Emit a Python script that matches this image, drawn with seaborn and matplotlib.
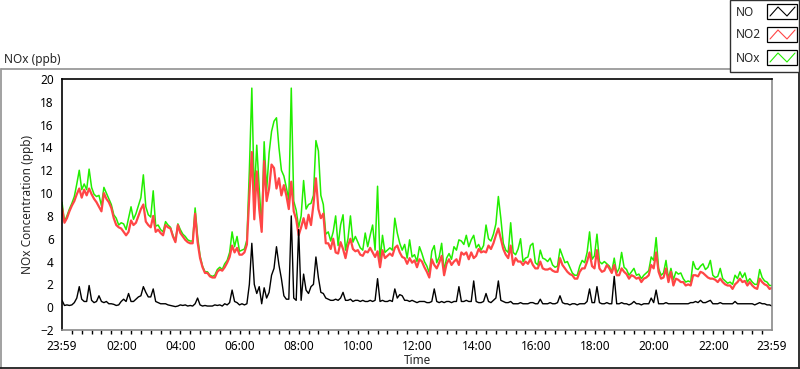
"""
plot.py
NOx / NO2 / NO concentration over one day, drawn in the style of a LabVIEW chart
"""

import numpy as np
import pandas as pd
import matplotlib
matplotlib.use("Agg")
import matplotlib.pyplot as plt
from matplotlib.lines import Line2D
from matplotlib.patches import Rectangle
from matplotlib.ticker import MultipleLocator
import seaborn as sns

# 5-minute samples, one row per hour, starting at 23:59
no2_rows = [
    [8.7, 7.4, 7.8, 8.4, 8.9, 9.3, 9.9, 10.4, 9.6, 10.3, 9.8, 10.4],
    [9.9, 9.5, 9.2, 8.8, 8.4, 10.0, 9.5, 9.2, 8.7, 7.8, 7.2, 7.0],
    [6.9, 6.6, 6.3, 6.6, 7.6, 7.2, 7.4, 8.0, 8.6, 9.0, 7.5, 7.2],
    [7.0, 8.0, 6.6, 6.8, 6.5, 6.3, 7.2, 7.0, 6.9, 6.2, 5.7, 7.2],
    [6.5, 6.2, 5.9, 5.7, 5.6, 5.6, 8.2, 5.7, 4.3, 3.5, 3.0, 3.0],
    [2.7, 2.6, 2.6, 3.1, 3.3, 3.2, 3.5, 3.9, 4.4, 5.4, 4.8, 5.2],
    [4.6, 4.6, 4.8, 5.5, 9.8, 13.6, 7.7, 11.9, 8.6, 6.6, 12.8, 9.3],
    [10.4, 12.5, 12.2, 10.4, 11.3, 9.8, 10.7, 9.8, 8.6, 11.0, 8.4, 7.7],
    [6.3, 7.0, 7.8, 6.9, 8.1, 7.2, 9.0, 11.3, 8.6, 7.8, 8.2, 5.6],
    [5.6, 5.1, 6.0, 4.8, 4.7, 5.7, 5.1, 4.3, 5.4, 6.0, 5.1, 4.9],
    [5.0, 4.6, 4.5, 4.9, 4.8, 5.2, 4.8, 4.4, 4.9, 3.5, 5.0, 4.3],
    [4.5, 4.7, 4.5, 5.2, 5.4, 4.8, 4.4, 4.3, 3.8, 4.3, 3.9, 4.1],
    [3.5, 4.2, 4.0, 3.5, 3.1, 2.6, 4.2, 3.7, 3.4, 3.9, 4.5, 2.8],
    [3.8, 4.2, 3.7, 4.0, 4.2, 3.7, 4.8, 4.6, 4.8, 4.2, 4.8, 4.3],
    [4.5, 5.1, 4.8, 4.9, 4.8, 5.4, 5.1, 5.6, 6.3, 6.9, 6.0, 5.1],
    [4.6, 4.3, 5.4, 3.7, 4.3, 4.0, 4.0, 3.7, 4.0, 3.8, 4.2, 3.7],
    [3.4, 3.4, 4.0, 3.4, 3.3, 3.3, 3.4, 3.2, 3.1, 3.1, 4.3, 3.7],
    [3.4, 3.1, 2.9, 2.8, 2.5, 2.5, 3.1, 3.4, 3.4, 4.0, 4.8, 3.6],
    [3.4, 5.0, 3.4, 3.1, 3.2, 3.7, 3.4, 3.0, 3.7, 2.8, 2.8, 3.4],
    [3.1, 2.9, 2.5, 2.8, 2.7, 2.5, 2.6, 2.2, 2.5, 2.6, 2.8, 3.7],
    [3.4, 4.8, 3.1, 2.5, 2.6, 3.4, 2.2, 3.1, 1.9, 2.5, 2.4, 2.2],
    [2.2, 1.9, 2.0, 1.9, 2.8, 2.8, 2.7, 3.1, 3.0, 2.8, 2.6, 2.5],
    [2.5, 2.4, 2.2, 2.5, 2.2, 2.0, 1.9, 1.9, 1.6, 2.0, 2.2, 2.5],
    [2.2, 2.3, 1.9, 2.2, 1.9, 1.7, 1.6, 2.5, 2.2, 2.0, 1.9, 1.6],
    [1.7],
]

no_rows = [
    [0.6, 0.15, 0.2, 0.15, 0.2, 0.4, 0.8, 1.8, 0.7, 0.5, 0.5, 1.9],
    [0.6, 0.4, 0.5, 1.0, 0.5, 0.4, 0.5, 0.3, 0.3, 0.25, 0.15, 0.2],
    [0.5, 0.7, 0.5, 1.2, 0.5, 0.5, 0.7, 0.9, 1.0, 1.8, 1.3, 0.9],
    [0.9, 1.6, 0.5, 0.4, 0.3, 0.3, 0.3, 0.2, 0.15, 0.1, 0.05, 0.1],
    [0.2, 0.15, 0.2, 0.1, 0.15, 0.1, 0.3, 0.8, 0.2, 0.1, 0.15, 0.1],
    [0.1, 0.1, 0.2, 0.15, 0.2, 0.1, 0.3, 0.2, 0.4, 1.5, 0.5, 0.4],
    [0.2, 0.3, 0.2, 0.3, 2.0, 5.6, 2.0, 1.2, 1.8, 0.3, 1.7, 0.8],
    [1.3, 2.8, 3.4, 5.3, 3.7, 2.5, 1.0, 0.7, 0.7, 8.0, 0.8, 0.6],
    [6.8, 0.6, 2.9, 1.5, 1.2, 1.8, 2.0, 4.4, 2.6, 1.3, 1.2, 0.8],
    [0.7, 0.6, 0.6, 0.7, 0.6, 0.8, 1.3, 0.6, 0.6, 0.7, 0.5, 0.6],
    [0.6, 0.5, 0.6, 0.5, 0.5, 0.6, 0.5, 0.6, 2.5, 0.5, 0.6, 0.5],
    [0.5, 0.6, 0.5, 1.6, 0.8, 1.1, 1.0, 0.6, 0.6, 0.5, 0.6, 0.5],
    [0.4, 0.5, 0.5, 0.5, 0.4, 0.4, 0.5, 1.6, 0.5, 0.4, 0.5, 0.4],
    [0.5, 0.5, 0.4, 0.5, 0.5, 1.8, 0.5, 0.5, 0.6, 0.5, 0.5, 2.3],
    [0.5, 0.4, 0.4, 0.5, 1.2, 0.5, 0.4, 0.6, 0.8, 2.3, 0.6, 0.5],
    [0.4, 0.4, 0.5, 0.3, 0.3, 0.3, 0.4, 0.3, 0.3, 0.3, 0.4, 0.4],
    [0.3, 0.3, 0.7, 0.3, 0.3, 0.3, 0.4, 0.3, 0.3, 0.4, 1.0, 0.4],
    [0.3, 0.3, 0.2, 0.3, 0.3, 0.2, 0.3, 0.3, 0.3, 0.5, 1.6, 0.4],
    [0.4, 1.8, 0.4, 0.3, 0.3, 0.4, 0.3, 0.3, 2.7, 0.3, 0.3, 0.4],
    [0.3, 0.3, 0.2, 0.3, 0.5, 0.3, 0.3, 0.2, 0.3, 0.3, 0.3, 0.8],
    [0.4, 1.5, 0.3, 0.3, 0.3, 0.4, 0.3, 0.3, 0.3, 0.3, 0.3, 0.3],
    [0.3, 0.3, 0.3, 0.4, 0.4, 0.5, 0.4, 0.6, 0.4, 0.4, 0.5, 0.6],
    [0.3, 0.3, 0.3, 0.4, 0.3, 0.3, 0.3, 0.3, 0.3, 0.5, 0.3, 0.3],
    [0.3, 0.3, 0.3, 0.3, 0.3, 0.2, 0.3, 0.4, 0.3, 0.3, 0.2, 0.2],
    [0.1],
]

nox_rows = [
    [9.2, 7.5, 8.0, 8.6, 9.1, 9.7, 10.8, 12.0, 10.3, 10.8, 10.3, 12.1],
    [10.5, 9.9, 9.7, 9.8, 8.9, 10.5, 10.0, 9.5, 9.0, 8.1, 7.8, 7.2],
    [7.4, 7.3, 6.8, 7.8, 8.8, 7.7, 8.2, 8.9, 9.6, 11.6, 8.8, 8.1],
    [7.9, 10.2, 7.1, 7.2, 6.8, 6.6, 7.5, 7.2, 7.0, 6.3, 5.8, 7.3],
    [6.8, 6.4, 6.2, 5.9, 5.8, 5.8, 8.7, 6.2, 4.5, 3.6, 3.1, 3.1],
    [2.8, 2.7, 2.8, 3.3, 3.5, 3.3, 3.8, 4.1, 4.8, 6.6, 5.3, 6.2],
    [4.9, 5.0, 5.1, 5.9, 12.0, 19.2, 9.8, 14.2, 10.4, 7.0, 14.5, 10.2],
    [13.5, 15.4, 16.3, 16.6, 14.0, 12.0, 11.5, 10.5, 9.4, 19.2, 9.3, 8.5],
    [7.0, 8.0, 11.1, 8.6, 9.0, 9.1, 9.8, 14.6, 13.7, 9.8, 9.0, 6.4],
    [6.6, 5.8, 6.6, 8.0, 5.4, 7.2, 8.1, 5.0, 6.0, 8.0, 5.7, 6.2],
    [5.7, 5.2, 5.0, 6.5, 5.3, 6.3, 7.2, 5.0, 10.6, 4.0, 6.3, 4.8],
    [5.0, 5.2, 5.0, 7.8, 6.5, 5.6, 5.0, 5.5, 4.3, 5.9, 4.4, 4.6],
    [4.0, 5.3, 4.7, 4.0, 3.6, 3.0, 4.9, 5.4, 3.9, 4.4, 5.6, 3.2],
    [4.3, 4.7, 4.2, 5.3, 5.0, 5.9, 5.8, 5.5, 6.3, 5.3, 5.9, 6.3],
    [5.2, 5.5, 5.0, 5.4, 7.2, 6.0, 5.8, 6.4, 7.3, 9.7, 7.8, 5.6],
    [5.0, 4.8, 7.4, 4.8, 4.6, 5.1, 6.0, 4.0, 4.3, 4.4, 5.4, 5.6],
    [3.9, 3.7, 5.0, 4.3, 4.2, 4.0, 4.3, 3.7, 3.5, 3.6, 5.1, 4.5],
    [3.9, 4.0, 3.5, 3.0, 2.8, 2.8, 3.6, 4.1, 3.9, 4.8, 6.6, 4.2],
    [4.5, 6.4, 4.0, 3.8, 4.0, 3.8, 3.6, 3.1, 4.3, 3.0, 3.4, 4.8],
    [3.5, 3.3, 2.8, 3.1, 3.4, 2.8, 2.9, 2.5, 2.8, 3.0, 3.2, 4.4],
    [4.1, 6.1, 3.4, 2.8, 3.0, 4.1, 2.5, 3.4, 2.4, 3.1, 2.9, 3.0],
    [2.5, 2.2, 2.3, 2.2, 4.0, 3.4, 3.3, 3.6, 3.8, 3.3, 3.5, 4.1],
    [2.8, 2.6, 2.7, 3.4, 2.5, 2.3, 2.1, 2.2, 2.0, 2.8, 2.5, 3.1],
    [2.6, 3.0, 2.2, 2.5, 2.2, 2.0, 2.0, 3.3, 2.6, 2.3, 2.2, 1.9],
    [1.9],
]

tick_labels = ["23:59", "02:00", "04:00", "06:00", "08:00", "10:00", "12:00",
               "14:00", "16:00", "18:00", "20:00", "22:00", "23:59"]
series_names = ["NO", "NO2", "NOx"]
series_colors = ["#000000", "#ff4646", "#22ee00"]

no2 = [v for row in no2_rows for v in row]
no = [v for row in no_rows for v in row]
nox = [v for row in nox_rows for v in row]
hours = np.arange(len(no2)) / 12.0  # hours since 23:59

df = pd.DataFrame({"hours": hours, "NO": no, "NO2": no2, "NOx": nox})

sns.set_theme(style="white")
plt.rcParams["font.family"] = ["Noto Sans", "DejaVu Sans"]

W, H = 800, 369
fig = plt.figure(figsize=(W / 100, H / 100), dpi=100)
fig.patch.set_facecolor("white")


def fx(x):
    return x / W


def fy(y):
    return 1 - y / H


ax = fig.add_axes([fx(62), fy(330), fx(772) - fx(62), fy(79) - fy(330)])

# green first, red over it, black on top
for name, col, lw in [("NOx", "#22ee00", 1.1), ("NO2", "#ff4646", 1.6),
                      ("NO", "#000000", 1.0)]:
    sns.lineplot(data=df, x="hours", y=name, ax=ax, color=col,
                 linewidth=lw, estimator=None, legend=False)

ax.set_xlim(0, 24)
ax.set_ylim(-2, 20)
major = [0] + [2 * k + 1 / 60 for k in range(1, 12)] + [24]
ax.set_xticks(major)
ax.set_xticklabels(tick_labels)
ax.xaxis.set_minor_locator(MultipleLocator(1 / 3))
ax.set_yticks(np.arange(-2, 21, 2))
ax.tick_params(axis="both", which="major", direction="out", length=4, width=1,
               labelsize=8.5, colors="black", pad=2)
ax.tick_params(axis="x", which="major", length=5)
ax.tick_params(axis="x", which="minor", direction="out", length=3, width=1,
               bottom=True, colors="black")
ax.set_xlabel("Time", fontsize=8.5, labelpad=1)
ax.set_ylabel("NOx Concentration (ppb)", fontsize=8.5, labelpad=4)
ax.spines["top"].set_color("black")
ax.spines["left"].set_color("black")
ax.spines["bottom"].set_color("#8a8a8a")
ax.spines["right"].set_color("#8a8a8a")
for s in ax.spines.values():
    s.set_linewidth(1.2)

# outer chart frame
def seg(x0, y0, x1, y1, color, lw=1.0):
    fig.add_artist(Line2D([fx(x0), fx(x1)], [fy(y0), fy(y1)], color=color,
                          linewidth=lw, transform=fig.transFigure))

seg(0.5, 69, 799, 69, "#9a9a9a", 1.3)
seg(1, 69, 1, 368, "#9a9a9a", 1.3)
seg(0, 367.5, 800, 367.5, "#202020", 1.3)
seg(799, 69, 799, 368, "#202020", 1.3)

fig.text(fx(4), fy(59), "NOx (ppb)", fontsize=8.5, va="center", ha="left")

# legend panel
fig.add_artist(Rectangle((fx(730), fy(72)), fx(799) - fx(730), fy(0) - fy(72),
                         facecolor="white", edgecolor="#303030", linewidth=1.0,
                         transform=fig.transFigure, zorder=5))
for i, (name, col) in enumerate(zip(series_names, series_colors)):
    top = 4 + 23 * i
    fig.text(fx(736), fy(top + 8), name, fontsize=8.5, va="center", ha="left",
             zorder=6)
    fig.add_artist(Rectangle((fx(767), fy(top + 15)), fx(797) - fx(767),
                             fy(top) - fy(top + 15), facecolor="white",
                             edgecolor="black", linewidth=0.9,
                             transform=fig.transFigure, zorder=6))
    zx = [770, 778, 787, 795]
    zy = [top + 12, top + 3, top + 12, top + 3]
    fig.add_artist(Line2D([fx(v) for v in zx], [fy(v) for v in zy], color=col,
                          linewidth=0.8, transform=fig.transFigure, zorder=7))

fig.savefig("out.png", dpi=100, facecolor="white")
